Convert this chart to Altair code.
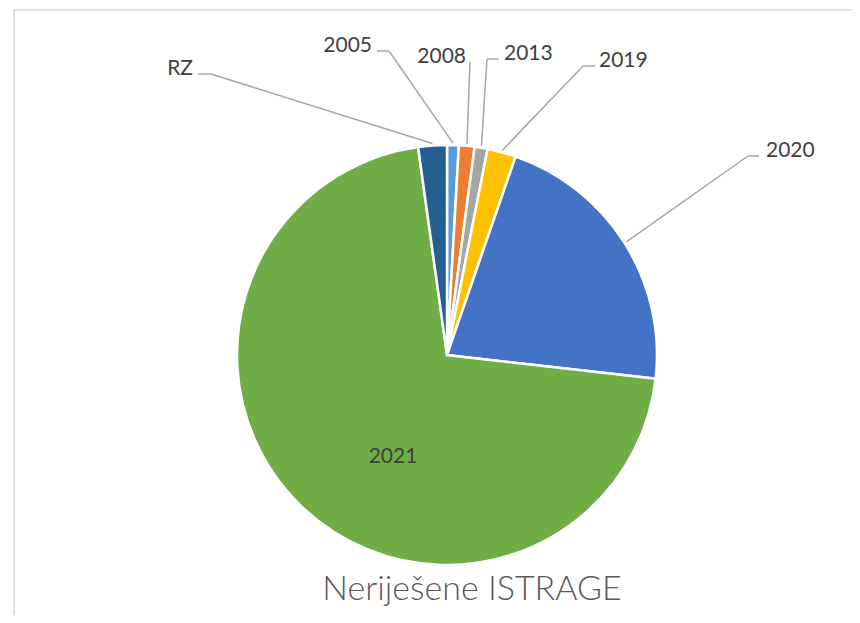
import altair as alt
import pandas as pd

# ---- data (clockwise from 12 o'clock) ----
categories = ["2005", "2008", "2013", "2019", "2020", "2021", "RZ"]
values = [0.9, 1.2, 1.0, 2.2, 21.5, 71.0, 2.2]
colors = ["#5B9BD5", "#ED7D31", "#A5A5A5", "#FFC000", "#4472C4", "#70AD47", "#255E91"]
title_text = "Neriješene ISTRAGE"

# ---- layout (chart pixels) ----
W, H = 844, 607
CX, CY, R = 439, 347, 210
label_x = [364, 458, 496, 591, 758, 385, 185]
label_y = [44, 55, 52, 59, 149, 449, 67]
label_pos = ["right", "right", "left", "left", "left", "inside", "right"]
leader_end_x = [369, 462, 491, 587, 751, None, 190]
leader_elbow_x = [381, 462, 479, 575, 740, None, 203]
leader_y = [43, 54, 51, 58, 148, None, 66]

df = pd.DataFrame({
    "category": categories,
    "value": values,
    "order": list(range(len(categories))),
    "label_x": label_x,
    "label_y": label_y,
    "pos": label_pos,
    "end_x": leader_end_x,
    "elbow_x": leader_elbow_x,
    "leader_y": leader_y,
})

xs = alt.Scale(domain=[0, W], nice=False, zero=False)
ys = alt.Scale(domain=[H, 0], nice=False, zero=False)

base = alt.Chart(df)

pie = base.mark_arc(radius=R, stroke="white", strokeWidth=2.5).encode(
    theta=alt.Theta("value:Q", stack=True),
    color=alt.Color("category:N", scale=alt.Scale(domain=categories, range=colors), legend=None),
    order=alt.Order("order:Q"),
    x=alt.value(CX),
    y=alt.value(CY),
)

leader_base = base.transform_joinaggregate(total="sum(value)").transform_window(
    cum="sum(value)", sort=[alt.SortField("order")], frame=[None, 0]
).transform_calculate(
    mid="(datum.cum - datum.value/2) / datum.total * 2 * PI",
    sx=f"{CX} + {R + 2} * sin(datum.mid)",
    sy=f"{CY} - {R + 2} * cos(datum.mid)",
).transform_filter("isValid(datum.elbow_x)")

leader1 = leader_base.mark_rule(color="#A6A6A6", strokeWidth=1.5).encode(
    x=alt.X("sx:Q", scale=xs, axis=None),
    y=alt.Y("sy:Q", scale=ys, axis=None),
    x2="elbow_x:Q",
    y2="leader_y:Q",
)
leader2 = leader_base.mark_rule(color="#A6A6A6", strokeWidth=1.5).encode(
    x=alt.X("elbow_x:Q", scale=xs, axis=None),
    x2="end_x:Q",
    y=alt.Y("leader_y:Q", scale=ys, axis=None),
)

def label_layer(pos, align, baseline):
    return base.transform_filter(alt.datum.pos == pos).mark_text(
        align=align, baseline=baseline, font="Lato", fontSize=21, fontWeight=400, color="#404040"
    ).encode(
        x=alt.X("label_x:Q", scale=xs, axis=None),
        y=alt.Y("label_y:Q", scale=ys, axis=None),
        text="category:N",
    )

labels_r = label_layer("right", "right", "alphabetic")
labels_l = label_layer("left", "left", "alphabetic")
labels_in = label_layer("inside", "center", "middle")

one = alt.Chart(pd.DataFrame({"t": [title_text]}))
title = one.mark_text(
    font="Lato", fontSize=34, fontWeight=300, color="#595959", align="center", baseline="alphabetic"
).encode(x=alt.value(464), y=alt.value(592), text="t:N")

border = one.mark_rect(fillOpacity=0, stroke="#D9D9D9", strokeWidth=1.5).encode(
    x=alt.value(6), y=alt.value(2), x2=alt.value(W + 30), y2=alt.value(H + 30)
)

chart = alt.layer(border, pie, leader1, leader2, labels_r, labels_l, labels_in, title).properties(
    width=W, height=H, padding=0, autosize=alt.AutoSizeParams(type="none"), background="white"
).configure_view(stroke=None)

chart.save("out.html", embed_options={"renderer": "svg", "actions": False})
